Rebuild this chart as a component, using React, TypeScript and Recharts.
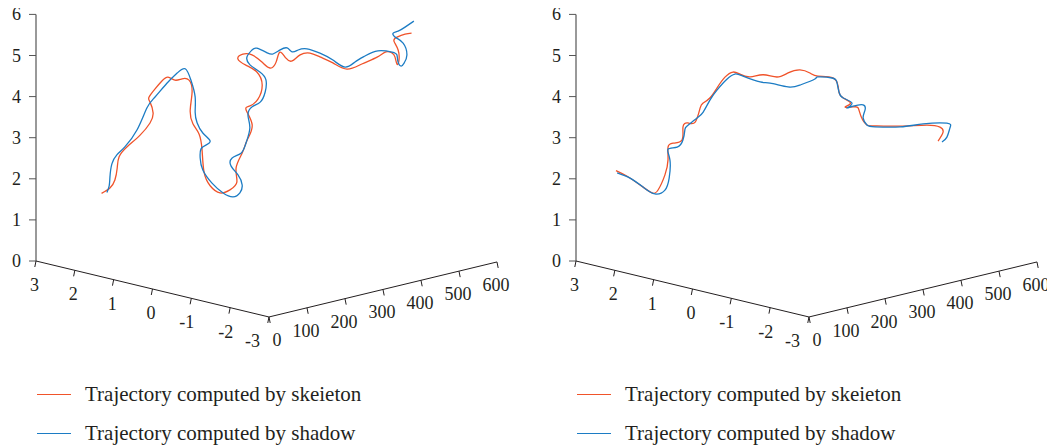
import React from 'react';
import { ComposedChart, Line, Scatter, XAxis, YAxis } from 'recharts';

// axis ticks
const lateralTicks = [3, 2, 1, 0, -1, -2, -3];
const frameTicks = [0, 100, 200, 300, 400, 500, 600];
const heightTicks = [0, 1, 2, 3, 4, 5, 6];

const seriesNames = ['Trajectory computed by skeieton', 'Trajectory computed by shadow'];

// left panel, skeleton trajectory (x lateral, y frame, z height)
const leftSkeletonX = [1.4, 1.4, 1.35, 1.3, 1.3, 1.25, 1.2, 1.15, 1.1, 1.1, 1.05, 1.0, 1.0, 0.95, 0.9, 0.9, 0.85, 0.8, 0.8, 0.75, 0.7, 0.7, 0.65, 0.6, 0.55, 0.5, 0.45, 0.45, 0.4, 0.35, 0.3, 0.3, 0.25, 0.2, 0.15, 0.15, 0.15, 0.15, 0.1, 0.05, 0.0, -0.05, -0.1, -0.1, -0.15, -0.2, -0.2, -0.25, -0.3, -0.35, -0.4, -0.45, -0.5, -0.55, -0.6, -0.6, -0.65, -0.65, -0.65, -0.65, -0.7, -0.75, -0.8];
const leftSkeletonY = [9, 31, 39, 40, 45, 61, 90, 111, 114, 106, 98, 109, 127, 138, 151, 170, 183, 186, 181, 183, 194, 202, 202, 213, 234, 255, 268, 266, 277, 285, 293, 277, 282, 298, 304, 290, 261, 240, 248, 267, 288, 304, 315, 325, 336, 347, 368, 389, 410, 439, 471, 505, 540, 558, 569, 577, 577, 582, 580, 569, 572, 588, 600];
const leftSkeletonZ = [1.99, 2.07, 2.26, 2.56, 2.82, 3.04, 3.27, 3.53, 3.78, 4.06, 4.21, 4.4, 4.55, 4.63, 4.54, 4.53, 4.48, 4.2, 3.77, 3.44, 3.18, 2.77, 2.25, 1.9, 1.69, 1.73, 1.9, 2.25, 2.6, 2.91, 3.27, 3.67, 3.77, 3.91, 4.25, 4.6, 4.83, 5.03, 5.14, 5.09, 4.88, 4.71, 4.84, 5.06, 4.9, 4.82, 4.92, 4.93, 4.8, 4.6, 4.39, 4.45, 4.55, 4.65, 4.61, 4.49, 4.33, 4.4, 4.67, 4.91, 5.01, 5.06, 5.07];

// left panel, shadow trajectory
const leftShadowX = [1.35, 1.35, 1.35, 1.3, 1.3, 1.25, 1.15, 1.1, 1.05, 0.95, 0.9, 0.85, 0.8, 0.8, 0.8, 0.75, 0.7, 0.65, 0.65, 0.7, 0.7, 0.7, 0.65, 0.55, 0.5, 0.45, 0.45, 0.45, 0.5, 0.5, 0.45, 0.4, 0.35, 0.35, 0.3, 0.25, 0.2, 0.2, 0.2, 0.2, 0.2, 0.15, 0.1, 0.05, 0.0, -0.05, -0.1, -0.15, -0.2, -0.25, -0.3, -0.35, -0.4, -0.45, -0.5, -0.55, -0.6, -0.6, -0.6, -0.65, -0.65, -0.7, -0.7, -0.65, -0.65, -0.7, -0.75, -0.85];
const leftShadowY = [18, 24, 26, 26, 39, 55, 77, 98, 114, 135, 157, 173, 183, 194, 194, 194, 204, 218, 207, 199, 197, 204, 223, 242, 263, 276, 282, 271, 258, 260, 279, 287, 292, 287, 293, 309, 317, 319, 303, 277, 269, 277, 285, 307, 317, 331, 344, 352, 363, 381, 410, 439, 466, 487, 508, 537, 569, 582, 585, 588, 596, 598, 588, 572, 567, 575, 588, 601];
const leftShadowZ = [2.0, 2.15, 2.36, 2.69, 2.88, 3.05, 3.44, 3.94, 4.18, 4.49, 4.7, 4.78, 4.49, 4.06, 3.69, 3.44, 3.18, 2.97, 2.89, 2.8, 2.59, 2.28, 1.93, 1.67, 1.54, 1.62, 1.8, 2.07, 2.3, 2.49, 2.58, 2.82, 3.19, 3.51, 3.71, 3.8, 4.04, 4.33, 4.56, 4.79, 5.0, 5.16, 5.2, 5.05, 5.01, 5.09, 5.12, 5.02, 5.05, 5.05, 4.89, 4.67, 4.45, 4.54, 4.65, 4.72, 4.63, 4.53, 4.35, 4.26, 4.32, 4.52, 4.83, 5.0, 5.11, 5.15, 5.23, 5.37];

// right panel, skeleton trajectory
const rightSkeletonX = [2.0, 1.9, 1.8, 1.7, 1.65, 1.6, 1.55, 1.55, 1.5, 1.45, 1.4, 1.4, 1.35, 1.3, 1.3, 1.25, 1.2, 1.15, 1.1, 1.05, 0.95, 0.85, 0.75, 0.65, 0.55, 0.45, 0.4, 0.25, 0.25, 0.2, 0.15, 0.1, 0.15, 0.1, 0.05, 0.0, -0.05, -0.1, -0.3, -0.5, -0.6, -0.65, -0.6];
const rightSkeletonY = [3, 21, 46, 66, 78, 91, 94, 94, 102, 121, 118, 131, 145, 153, 161, 174, 187, 203, 219, 232, 249, 273, 299, 318, 339, 355, 371, 395, 409, 409, 422, 425, 417, 433, 441, 444, 454, 475, 516, 566, 590, 593, 585];
const rightSkeletonZ = [2.42, 2.27, 2.02, 1.81, 1.86, 2.21, 2.58, 2.89, 2.98, 3.03, 3.36, 3.43, 3.43, 3.77, 3.87, 3.98, 4.2, 4.44, 4.54, 4.47, 4.39, 4.41, 4.32, 4.4, 4.45, 4.36, 4.26, 4.2, 3.95, 3.76, 3.62, 3.53, 3.46, 3.44, 3.41, 3.2, 2.99, 2.93, 2.88, 2.84, 2.76, 2.64, 2.43];

// right panel, shadow trajectory
const rightShadowX = [2.0, 1.9, 1.8, 1.7, 1.6, 1.55, 1.55, 1.55, 1.5, 1.45, 1.4, 1.4, 1.35, 1.3, 1.25, 1.2, 1.15, 1.1, 1.0, 0.9, 0.8, 0.65, 0.55, 0.4, 0.4, 0.25, 0.25, 0.2, 0.2, 0.1, 0.15, 0.1, 0.0, 0.0, 0.0, -0.05, -0.1, -0.3, -0.5, -0.7, -0.75, -0.7, -0.7];
const rightShadowY = [6, 30, 54, 75, 91, 97, 99, 94, 113, 123, 123, 129, 150, 161, 174, 187, 208, 224, 235, 270, 286, 318, 339, 363, 371, 393, 406, 406, 417, 430, 422, 433, 449, 454, 449, 454, 470, 516, 556, 598, 601, 598, 585];
const rightShadowZ = [2.36, 2.2, 1.95, 1.76, 1.84, 2.13, 2.57, 2.84, 2.86, 3.02, 3.28, 3.36, 3.52, 3.65, 3.93, 4.15, 4.38, 4.48, 4.43, 4.23, 4.19, 4.06, 4.08, 4.21, 4.24, 4.2, 4.05, 3.84, 3.67, 3.54, 3.43, 3.46, 3.48, 3.34, 3.16, 2.99, 2.92, 2.86, 2.89, 2.86, 2.75, 2.52, 2.43];

const RED = '#f0532a';
const BLUE = '#1c7cc4';
const INK = '#231f20';
const FONT = 'Liberation Serif, Times New Roman, serif';
const H = 372;
const TOP = 12; // extra room above the "6" label

// oblique 3d view: lateral axis runs down-right, frame axis up-right, height straight up
const project = (x: number, y: number, z: number) => {
  const d = 3 - x;
  return { u: 28 + 38.83 * d + 0.38 * y, v: TOP + 253 + 9.33 * d - 0.0917 * y - 41.1 * z };
};

const toPoints = (xs: number[], ys: number[], zs: number[]) =>
  xs.map((x, i) => project(x, ys[i], zs[i]));

const zLine = [project(3, 0, 0), project(3, 0, 6)];
const lateralLine = [project(3, 0, 0), project(-3, 0, 0)];
const frameLine = [project(-3, 0, 0), project(-3, 600, 0)];

const zTickPts = heightTicks.map((t) => ({ ...project(3, 0, t), label: t }));
const lateralTickPts = lateralTicks.map((t, i) => ({ ...project(t, 0, 0), label: t, i }));
const frameTickPts = frameTicks.map((t, i) => ({ ...project(-3, t, 0), label: t, i }));

const Label = ({ x, y, anchor, children }: any) => (
  <text x={x} y={y} textAnchor={anchor} dominantBaseline="central" fontFamily={FONT} fontSize={18} fill={INK}>
    {children}
  </text>
);

const ZTick = (p: any) => (
  <g>
    <line x1={p.cx - 7} y1={p.cy} x2={p.cx} y2={p.cy} stroke="#555" strokeWidth={1} />
    <Label x={p.cx - 15} y={p.cy} anchor="end">{p.payload.label}</Label>
  </g>
);

const LateralTick = (p: any) => {
  const shift = p.payload.i === lateralTicks.length - 1 ? -12 : 0;
  return (
    <g>
      <line x1={p.cx} y1={p.cy} x2={p.cx - 1.2} y2={p.cy + 6} stroke={INK} strokeWidth={1} />
      <Label x={p.cx + 3 + shift} y={p.cy + 24} anchor="end">{p.payload.label}</Label>
    </g>
  );
};

const FrameTick = (p: any) => {
  const shift = p.payload.i === 0 ? 9 : 0;
  return (
    <g>
      <line x1={p.cx} y1={p.cy} x2={p.cx + 1.2} y2={p.cy + 6} stroke={INK} strokeWidth={1} />
      <Label x={p.cx + shift - 1} y={p.cy + 23} anchor="middle">{p.payload.label}</Label>
    </g>
  );
};

const panels = [
  {
    width: 540,
    skeleton: toPoints(leftSkeletonX, leftSkeletonY, leftSkeletonZ),
    shadow: toPoints(leftShadowX, leftShadowY, leftShadowZ),
  },
  {
    width: 507,
    skeleton: toPoints(rightSkeletonX, rightSkeletonY, rightSkeletonZ),
    shadow: toPoints(rightShadowX, rightShadowY, rightShadowZ),
  },
];

const Panel = ({ width, skeleton, shadow }: { width: number; skeleton: any[]; shadow: any[] }) => (
  <div style={{ width }}>
    <ComposedChart width={width} height={H} margin={{ top: 0, right: 0, bottom: 0, left: 0 }}>
      <XAxis type="number" dataKey="u" domain={[0, width]} hide />
      <YAxis type="number" dataKey="v" domain={[0, H]} reversed hide />
      <Line data={zLine} dataKey="v" type="linear" stroke="#555" strokeWidth={1.2} dot={false} isAnimationActive={false} />
      <Line data={lateralLine} dataKey="v" type="linear" stroke={INK} strokeWidth={1} dot={false} isAnimationActive={false} />
      <Line data={frameLine} dataKey="v" type="linear" stroke={INK} strokeWidth={1} dot={false} isAnimationActive={false} />
      <Scatter data={zTickPts} dataKey="v" shape={ZTick} isAnimationActive={false} />
      <Scatter data={lateralTickPts} dataKey="v" shape={LateralTick} isAnimationActive={false} />
      <Scatter data={frameTickPts} dataKey="v" shape={FrameTick} isAnimationActive={false} />
      <Line data={skeleton} dataKey="v" name={seriesNames[0]} type="natural" stroke={RED} strokeWidth={1.3} dot={false} isAnimationActive={false} />
      <Line data={shadow} dataKey="v" name={seriesNames[1]} type="natural" stroke={BLUE} strokeWidth={1.3} dot={false} isAnimationActive={false} />
    </ComposedChart>
    <div style={{ marginLeft: 29, marginTop: 7 }}>
      {seriesNames.map((name, i) => (
        <div key={name} style={{ display: 'flex', alignItems: 'center', height: 39 }}>
          <span style={{ width: 34, borderTop: `1.3px solid ${i === 0 ? RED : BLUE}`, marginRight: 14 }} />
          <span style={{ fontFamily: FONT, fontSize: 21, color: INK }}>{name}</span>
        </div>
      ))}
    </div>
  </div>
);

export default function App() {
  return (
    <div style={{ display: 'flex', width: 1047, marginTop: -TOP }}>
      {panels.map((p, i) => (
        <Panel key={i} {...p} />
      ))}
    </div>
  );
}
